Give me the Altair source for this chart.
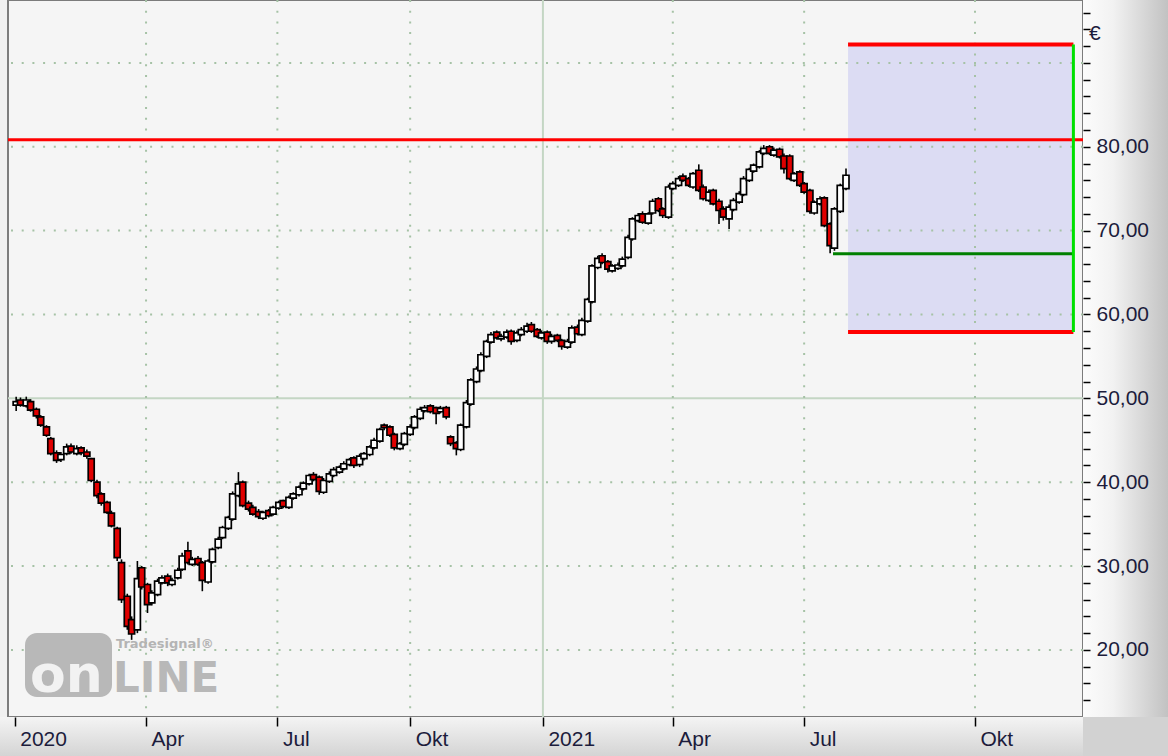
import altair as alt
import pandas as pd

# ---------------- data ----------------
n_candles = 165
dates = pd.date_range("2020-01-02", "2021-07-30", periods=n_candles).strftime("%Y-%m-%d").tolist()

opens = [
    49.2, 49.8, 49.1, 49.6, 48.7, 47.8, 46.6, 45.2, 43.5, 42.7,
    43.4, 44.3, 43.4, 44.1, 43.6, 42.8, 40.0, 38.6, 37.6, 36.3,
    34.5, 30.4, 26.4, 23.6, 22.4, 29.8, 27.8, 25.6, 26.6, 28.0,
    28.8, 27.8, 28.6, 29.6, 31.8, 30.2, 30.9, 30.4, 28.1, 30.5,
    32.2, 33.4, 34.5, 35.6, 38.4, 40.0, 37.5, 37.0, 36.5, 35.7,
    36.6, 36.2, 36.9, 37.8, 37.0, 38.1, 38.5, 39.2, 39.8, 40.9,
    40.6, 38.8, 40.1, 40.8, 41.2, 41.6, 42.1, 42.9, 42.1, 42.8,
    43.3, 44.1, 44.9, 46.8, 46.6, 45.7, 44.0, 44.5, 45.7, 46.5,
    47.6, 48.5, 49.1, 48.9, 48.4, 48.9, 45.4, 44.7, 43.9, 46.6,
    49.3, 52.0, 53.3, 55.0, 56.7, 57.9, 57.1, 57.3, 58.0, 56.9,
    57.6, 58.0, 58.8, 58.2, 57.2, 57.9, 56.8, 57.5, 56.9, 56.1,
    56.7, 58.5, 57.6, 59.2, 61.5, 65.6, 67.0, 66.3, 65.2, 65.5,
    65.8, 66.8, 69.0, 71.2, 72.0, 70.9, 72.1, 73.8, 72.6, 71.6,
    75.0, 75.4, 76.5, 76.2, 75.2, 77.2, 75.2, 73.6, 74.8, 73.5,
    72.6, 71.4, 72.5, 73.4, 74.3, 76.0, 77.1, 77.6, 79.2, 80.0,
    79.0, 79.7, 78.9, 78.9, 76.0, 77.0, 75.6, 74.8, 72.1, 73.2,
    73.9, 70.8, 67.9, 72.3, 75.0,
]
closes = [
    49.6, 49.2, 49.8, 48.6, 47.9, 46.8, 45.6, 43.4, 42.6, 43.3,
    44.2, 43.6, 44.0, 43.5, 43.1, 40.2, 38.4, 37.5, 36.4, 34.8,
    31.0, 26.0, 22.8, 21.9, 28.5, 27.5, 25.4, 26.8, 28.2, 28.6,
    28.0, 28.3, 29.5, 31.2, 30.4, 30.8, 30.2, 28.3, 30.6, 32.0,
    33.2, 34.6, 35.8, 38.6, 39.8, 37.2, 36.8, 36.2, 35.9, 36.4,
    36.0, 37.0, 37.6, 37.1, 38.2, 38.6, 39.4, 39.9, 40.8, 40.3,
    38.9, 40.2, 41.0, 41.5, 41.8, 42.2, 42.7, 42.0, 43.1, 43.4,
    44.2, 45.0, 46.3, 46.5, 45.6, 44.1, 44.6, 45.8, 46.6, 47.8,
    48.7, 48.9, 48.4, 48.2, 48.8, 47.8, 44.6, 44.0, 46.8, 49.5,
    52.2, 53.5, 55.2, 56.8, 57.6, 57.2, 57.4, 57.9, 56.8, 57.8,
    58.2, 58.6, 58.0, 57.4, 57.8, 56.8, 57.4, 56.9, 56.2, 56.8,
    58.4, 57.7, 59.3, 61.8, 65.8, 66.7, 66.2, 65.4, 65.8, 65.9,
    66.6, 69.2, 71.4, 71.8, 71.0, 72.0, 73.5, 72.4, 71.8, 75.2,
    75.6, 76.2, 76.0, 75.4, 76.8, 74.8, 73.8, 74.6, 73.2, 72.4,
    71.6, 72.8, 73.6, 74.4, 76.2, 77.3, 77.8, 79.4, 79.8, 79.2,
    79.6, 78.8, 77.4, 76.2, 76.8, 75.4, 74.6, 72.3, 73.4, 73.8,
    70.6, 68.2, 72.6, 75.4, 76.6,
]
highs = [
    50.2, 50.1, 50.2, 49.9, 48.9, 48.0, 46.8, 45.4, 43.8, 43.6,
    44.6, 44.6, 44.4, 44.3, 43.9, 42.9, 40.3, 38.8, 37.8, 36.6,
    34.7, 30.8, 26.7, 24.0, 30.6, 30.0, 28.0, 27.1, 28.5, 28.9,
    29.1, 28.6, 29.8, 31.6, 32.9, 31.1, 31.2, 30.6, 30.8, 32.2,
    33.5, 34.8, 36.0, 38.9, 41.2, 40.2, 37.8, 37.3, 36.8, 36.6,
    36.8, 37.2, 37.8, 37.9, 38.4, 38.8, 39.6, 40.1, 41.0, 41.2,
    40.8, 40.5, 41.3, 41.8, 42.0, 42.5, 42.9, 43.1, 43.4, 43.6,
    44.4, 45.3, 46.5, 47.0, 46.8, 45.9, 44.8, 46.0, 46.9, 48.0,
    49.0, 49.2, 49.3, 49.0, 49.1, 49.1, 45.6, 44.9, 47.0, 49.8,
    52.4, 53.8, 55.5, 57.0, 57.9, 58.1, 57.7, 58.2, 58.2, 58.1,
    58.5, 59.0, 59.1, 58.4, 58.1, 58.1, 57.7, 57.7, 57.1, 57.1,
    58.7, 58.8, 59.6, 62.0, 66.0, 67.0, 67.3, 66.5, 66.0, 66.2,
    66.9, 69.5, 71.6, 72.1, 72.3, 72.2, 73.8, 74.0, 72.8, 75.5,
    75.9, 76.5, 76.8, 76.4, 77.0, 77.9, 75.5, 74.9, 75.0, 73.8,
    72.9, 73.1, 73.9, 74.7, 76.5, 77.5, 78.0, 79.6, 80.2, 80.2,
    79.9, 79.9, 79.2, 79.1, 77.0, 77.2, 75.8, 75.0, 73.6, 74.1,
    74.1, 71.0, 72.8, 75.6, 77.4,
]
lows = [
    48.5, 49.0, 48.9, 48.4, 47.6, 46.6, 45.4, 43.2, 42.3, 42.4,
    43.2, 43.4, 43.2, 43.2, 42.8, 40.0, 38.1, 37.2, 36.2, 34.6,
    30.6, 25.6, 22.4, 21.2, 22.0, 27.2, 24.4, 25.3, 26.4, 27.8,
    27.6, 27.6, 28.4, 29.4, 30.2, 30.0, 30.0, 27.0, 27.9, 30.3,
    32.0, 33.2, 34.3, 35.4, 38.2, 37.0, 36.5, 36.0, 35.6, 35.5,
    35.8, 36.0, 36.7, 36.9, 36.8, 37.9, 38.3, 39.0, 39.6, 40.1,
    38.5, 38.6, 39.9, 40.6, 41.0, 41.4, 41.9, 41.7, 41.8, 42.6,
    43.1, 43.9, 44.7, 46.2, 45.4, 43.8, 43.8, 44.3, 45.5, 46.3,
    47.4, 48.3, 48.2, 46.9, 48.2, 47.5, 44.3, 43.2, 43.7, 46.4,
    49.1, 51.8, 53.1, 54.8, 56.5, 57.0, 56.8, 57.1, 56.4, 56.7,
    57.4, 57.8, 57.8, 57.2, 57.0, 56.5, 56.5, 56.7, 55.8, 55.9,
    56.5, 57.5, 57.4, 59.0, 61.3, 65.4, 66.0, 65.0, 65.0, 65.3,
    65.6, 66.6, 68.8, 71.0, 70.8, 70.7, 71.9, 72.2, 71.5, 71.4,
    74.8, 75.2, 75.8, 75.2, 75.0, 74.6, 73.6, 73.4, 73.0, 70.8,
    71.2, 70.2, 72.3, 73.2, 74.1, 75.8, 76.9, 77.4, 79.0, 79.0,
    78.8, 78.6, 76.8, 76.0, 75.8, 75.2, 74.4, 72.0, 71.9, 73.0,
    70.4, 67.3, 67.6, 72.1, 74.8,
]

# levels drawn on the chart
resistance_level = 80.84
box_top = 92.2
box_bottom = 57.9
support_level = 67.24
support_start = "2021-07-21"
box_start = "2021-07-31"
box_end = "2021-11-24"

# grid & tick definitions
y_dotted_grid = [20, 30, 40, 60, 70, 80, 90]
y_solid_grid = [50]
x_dotted_grid = ["2020-04-01", "2020-07-01", "2020-10-01", "2021-04-01", "2021-07-01", "2021-10-01"]
x_solid_grid = ["2021-01-01"]
x_tick_dates = ["2020-01-01", "2020-04-01", "2020-07-01", "2020-10-01",
                "2021-01-01", "2021-04-01", "2021-07-01", "2021-10-01"]
x_tick_labels = ["2020", "Apr", "Jul", "Okt", "2021", "Apr", "Jul", "Okt"]
y_tick_values = list(range(14, 97, 2))
x_breaks = ["2020-01-01", "2021-07-30", "2021-10-01", "2021-11-26"]

# ---------------- chart ----------------
W, H = 1075, 717
LABEL_FONT = "Liberation Sans"
LABEL_COLOR = "#1c1c3c"


def ms(s):
    return int(pd.Timestamp(s, tz="UTC").value // 10**6)


def ms_list(lst):
    return [ms(s) for s in lst]


# piecewise time axis (the projection area to the right is stretched)
x_scale = alt.Scale(type="linear", domain=ms_list(x_breaks),
                    range=[2, 838, 967, W], nice=False, zero=False)
y_scale = alt.Scale(domain=[12.0, 97.5], nice=False, zero=False)

x_label_expr = " : ".join(
    f"utcFormat(datum.value, '%Y-%m-%d') == '{d}' ? '{l}'" for d, l in zip(x_tick_dates, x_tick_labels)
) + " : ''"

x_axis = alt.Axis(values=ms_list(x_tick_dates), labelExpr=x_label_expr, title=None,
                  orient="bottom", tickSize=9, tickColor="black", tickWidth=1.5,
                  labelAlign="left", labelBaseline="top", labelPadding=2, labelOffset=5,
                  labelFont=LABEL_FONT, labelFontSize=21, labelColor=LABEL_COLOR,
                  domain=False, grid=False, zindex=1, labelOverlap=False, labelFlush=False,
                  labelBound=False)
y_axis = alt.Axis(values=y_tick_values, orient="right", title=None,
                  labelExpr="datum.value % 10 == 0 && datum.value <= 80 ? replace(format(datum.value, '.2f'), '.', ',') : ''",
                  tickSize=7, tickColor="black", tickWidth=1.5, labelPadding=6,
                  labelFont=LABEL_FONT, labelFontSize=21, labelColor=LABEL_COLOR,
                  domain=False, grid=False, zindex=1, labelOverlap=False, labelFlush=False,
                  labelBaseline="middle")


def X(field, **kw):
    return alt.X(field, type="quantitative", scale=x_scale, axis=x_axis, **kw)


def Y(field, **kw):
    return alt.Y(field, type="quantitative", scale=y_scale, axis=y_axis, **kw)


one = pd.DataFrame({"a": [0]})

# decorative background strips (outside plot)
bg_right = alt.Chart(one).mark_rect(
    fill=alt.LinearGradient(gradient="linear", x1=0, x2=1, y1=0, y2=0,
                            stops=[alt.GradientStop(color="#fcfcfc", offset=0),
                                   alt.GradientStop(color="#f2f2f2", offset=0.35),
                                   alt.GradientStop(color="#c2c2c2", offset=1)])
).encode(x=alt.value(W), x2=alt.value(W + 85), y=alt.value(0), y2=alt.value(H))

bg_bottom = alt.Chart(one).mark_rect(
    fill=alt.LinearGradient(gradient="linear", x1=0, x2=0, y1=0, y2=1,
                            stops=[alt.GradientStop(color="#f4f4f4", offset=0),
                                   alt.GradientStop(color="#d4d4d4", offset=1)])
).encode(x=alt.value(-8), x2=alt.value(W), y=alt.value(H), y2=alt.value(H + 39))

bg_corner = alt.Chart(one).mark_rect(fill="#d2d2d2").encode(
    x=alt.value(W), x2=alt.value(W + 85), y=alt.value(H), y2=alt.value(H + 39))

# projection box
lines_df = pd.DataFrame({"start": ms_list([box_start]), "end": ms_list([box_end]),
                         "top": [box_top], "bottom": [box_bottom],
                         "sup": [support_level], "sup_start": ms_list([support_start])})
box = alt.Chart(lines_df).mark_rect(fill="#dcdcf3").encode(
    x=X("start"), x2="end", y=Y("bottom"), y2="top")

# grid lines
ygd = alt.Chart(pd.DataFrame({"v": y_dotted_grid})).mark_rule(
    color="#a6c2a6", strokeWidth=2, strokeDash=[2, 8.7]).encode(y=Y("v"))
ygs = alt.Chart(pd.DataFrame({"v": y_solid_grid})).mark_rule(
    color="#c4d6c4", strokeWidth=2).encode(y=Y("v"))
xgd = alt.Chart(pd.DataFrame({"d": ms_list(x_dotted_grid)})).mark_rule(
    color="#a6c2a6", strokeWidth=2, strokeDash=[2, 8.7]).encode(x=X("d"))
xgs = alt.Chart(pd.DataFrame({"d": ms_list(x_solid_grid)})).mark_rule(
    color="#c4d6c4", strokeWidth=2).encode(x=X("d"))

# watermark
wm_rect = alt.Chart(one).mark_rect(fill="#b8b8b8", cornerRadius=12).encode(
    x=alt.value(17), x2=alt.value(104), y=alt.value(633), y2=alt.value(697))
wm_on = alt.Chart(one).mark_text(text="on", font="DejaVu Sans", fontWeight="bold", fontSize=52,
                                 color="#f2f2f2", align="left", baseline="alphabetic").encode(
    x=alt.value(22), y=alt.value(692))
wm_line = alt.Chart(one).mark_text(text="LINE", font="DejaVu Sans", fontWeight="bold", fontSize=42,
                                   color="#b8b8b8", align="left", baseline="alphabetic").encode(
    x=alt.value(105), y=alt.value(692))
wm_brand = alt.Chart(one).mark_text(text="Tradesignal®", font="DejaVu Sans", fontWeight="bold",
                                    fontSize=13, color="#b4b4b4", align="left",
                                    baseline="alphabetic").encode(
    x=alt.value(108), y=alt.value(648))

# horizontal levels
res = alt.Chart(pd.DataFrame({"v": [resistance_level]})).mark_rule(
    color="#ff0000", strokeWidth=3).encode(y=Y("v"))
top_line = alt.Chart(lines_df).mark_rule(color="#ff0000", strokeWidth=4).encode(
    x=X("start"), x2="end", y=Y("top"))
bottom_line = alt.Chart(lines_df).mark_rule(color="#ff0000", strokeWidth=4).encode(
    x=X("start"), x2="end", y=Y("bottom"))
sup_line = alt.Chart(lines_df).mark_rule(color="#008000", strokeWidth=3).encode(
    x=X("sup_start"), x2="end", y=Y("sup"))
vert_line = alt.Chart(lines_df).mark_rule(color="#00e000", strokeWidth=3).encode(
    x=X("end"), y=Y("bottom"), y2="top")

# candles
df = pd.DataFrame({"t": ms_list(dates), "open": opens, "high": highs, "low": lows, "close": closes})
base = alt.Chart(df)
wicks = base.mark_rule(color="black", strokeWidth=1.6).encode(
    x=X("t"), y=Y("low"), y2="high")
bodies = base.mark_bar(size=6, stroke="black", strokeWidth=1.7).encode(
    x=X("t"), y=Y("open"), y2="close",
    fill=alt.condition("datum.close < datum.open", alt.value("#e00000"), alt.value("#ffffff")))

euro = alt.Chart(one).mark_text(text="€", font=LABEL_FONT, fontSize=21, color=LABEL_COLOR,
                                align="left", baseline="alphabetic").encode(
    x=alt.value(W + 6), y=alt.value(40))

chart = alt.layer(
    bg_right, bg_bottom, bg_corner, box, ygd, ygs, xgd, xgs,
    wm_rect, wm_on, wm_line, wm_brand,
    res, top_line, bottom_line, sup_line, vert_line,
    wicks, bodies, euro,
).properties(
    width=W, height=H,
    padding={"left": 8, "top": 0, "right": 85, "bottom": 39},
    autosize=alt.AutoSizeParams(type="none"),
    background="#f0f0f0",
).configure_view(fill="#f5f5f5", stroke="#7c7c7c", strokeWidth=2)

chart.save("out.html", embed_options={"renderer": "svg", "actions": False})
